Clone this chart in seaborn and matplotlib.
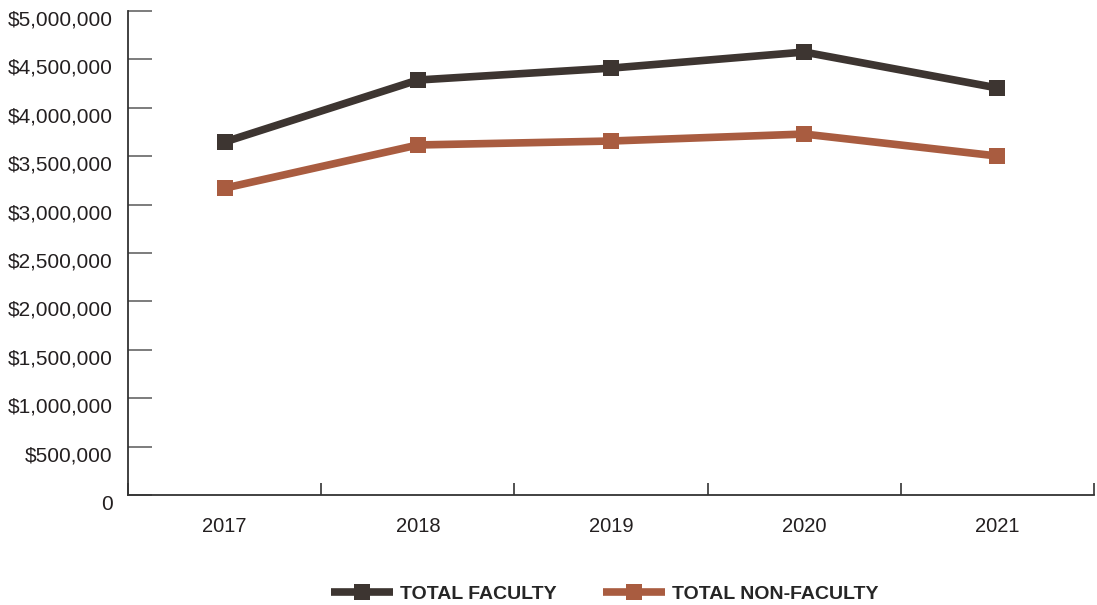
import pandas as pd
import matplotlib.pyplot as plt
import matplotlib.transforms as mtransforms
import seaborn as sns
from matplotlib.ticker import FuncFormatter, FixedLocator

# Data
years = ['2017', '2018', '2019', '2020', '2021']
faculty = [3647000, 4287000, 4410000, 4576000, 4205000]
non_faculty = [3170000, 3616000, 3657000, 3729000, 3502000]
series_names = ['TOTAL FACULTY', 'TOTAL NON-FACULTY']
colors = ['#3d3531', '#a95c40']

df = pd.DataFrame({
    'year': years * 2,
    'value': faculty + non_faculty,
    'series': [series_names[0]] * len(years) + [series_names[1]] * len(years),
})

sns.set_style('white')
plt.rcParams['font.family'] = ['Liberation Sans', 'DejaVu Sans']

fig = plt.figure(figsize=(10.97, 6.05), dpi=100)
ax = fig.add_axes([0.1167, 0.1818, 0.8806, 0.8])

sns.lineplot(
    data=df,
    x='year',
    y='value',
    hue='series',
    style='series',
    markers=['s', 's'],
    dashes=False,
    palette=colors,
    linewidth=5.5,
    markersize=12,
    markeredgewidth=0,
    sort=False,
    ax=ax,
    legend=False,
)

ax.set_xlim(-0.5, 4.5)
ax.set_ylim(0, 5000000)
ax.set_xlabel('')
ax.set_ylabel('')

# y axis
ax.set_yticks(range(0, 5000001, 500000))
ax.yaxis.set_major_formatter(
    FuncFormatter(lambda v, p: '0' if v == 0 else f'${v:,.0f}')
)
ax.tick_params(axis='y', left=True, direction='in', length=17.5, width=1.2,
               color='#666666', labelsize=15, labelcolor='#231f20', pad=11)
offset = mtransforms.ScaledTranslation(0, -7 / 100, fig.dpi_scale_trans)
for lbl in ax.get_yticklabels():
    lbl.set_transform(lbl.get_transform() + offset)

# x axis
ax.tick_params(axis='x', which='major', bottom=False, labelsize=14.5,
               labelcolor='#231f20', pad=12)
ax.xaxis.set_minor_locator(FixedLocator([-0.5, 0.5, 1.5, 2.5, 3.5, 4.5]))
ax.tick_params(axis='x', which='minor', bottom=True, direction='in',
               length=9, width=1.2, color='#333333')

for side in ['top', 'right']:
    ax.spines[side].set_visible(False)
for side in ['left', 'bottom']:
    ax.spines[side].set_color('#333333')
    ax.spines[side].set_linewidth(1.3)

# legend
handles = [
    plt.Line2D([], [], color=c, linewidth=5.5, marker='s',
               markersize=12, markeredgewidth=0, solid_capstyle='butt')
    for c in colors
]
fig.legend(
    handles, series_names,
    loc='lower center',
    bbox_to_anchor=(0.551, -0.025),
    ncol=2,
    frameon=False,
    handlelength=3.2,
    handletextpad=0.35,
    columnspacing=2.4,
    prop={'weight': 'bold', 'size': 14},
)

fig.savefig('out.png', dpi=100)
